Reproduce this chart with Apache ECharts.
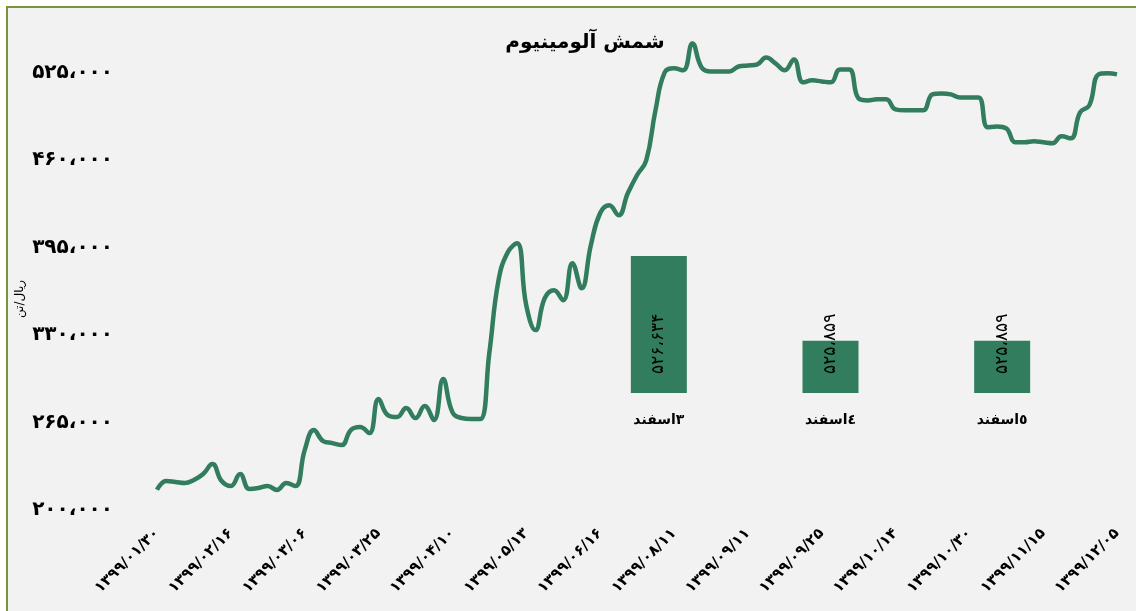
<!DOCTYPE html>
<html>
<head>
<meta charset="utf-8">
<script src="https://cdn.jsdelivr.net/npm/echarts@6/dist/echarts.min.js"></script>
<style>
  html, body { margin: 0; padding: 0; background: #ffffff; }
  #frame {
    position: absolute; left: 6px; top: 6px; width: 1130px; height: 605px;
    background: #f2f2f2; border-top: 2px solid #77933c; border-left: 2px solid #77933c;
  }
  #chart { position: absolute; left: 0; top: 0; width: 1136px; height: 611px; }
</style>
</head>
<body>
<div id="frame"></div>
<div id="chart"></div>
<script>
// dates shown on the x axis, one every labelStep points
const tickLabels = [
    '۱۳۹۹/۰۱/۳۰', '۱۳۹۹/۰۲/۱۶', '۱۳۹۹/۰۳/۰۶', '۱۳۹۹/۰۳/۲۵', '۱۳۹۹/۰۴/۱۰',
    '۱۳۹۹/۰۵/۱۳', '۱۳۹۹/۰۶/۱۶', '۱۳۹۹/۰۸/۱۱', '۱۳۹۹/۰۹/۱۱', '۱۳۹۹/۰۹/۲۵',
    '۱۳۹۹/۱۰/۱۴', '۱۳۹۹/۱۰/۳۰', '۱۳۹۹/۱۱/۱۵', '۱۳۹۹/۱۲/۰۵'
];
const labelStep = 8;

// price, rial per ton
const prices = [
    215000, 221500, 220800, 220000, 222300, 226700, 234100, 221500, 217800, 226700,
    215600, 216300, 217800, 214800, 220000, 217800, 244500, 259400, 251200, 249700,
    248200, 259400, 261600, 257100, 282400, 270500, 269000, 275700, 268300, 277200,
    266800, 297200, 272700, 268300, 267500, 267500, 316500, 370700, 391400, 398100,
    352100, 333600, 357300, 363200, 355800, 383300, 364700, 396600, 420400, 426300,
    418900, 435200, 448600, 459700, 496800, 525000, 528000, 526500, 546500, 528700,
    525700, 525700, 525700, 529400, 530200, 530900, 536100, 531700, 526500, 534600,
    517600, 519100, 518300, 517600, 527200, 527200, 505700, 504200, 505000, 505000,
    497500, 496800, 496800, 496800, 508700, 509400, 508700, 506400, 506400, 506400,
    484200, 484900, 483400, 473100, 473100, 473800, 473100, 472300, 477500, 476000,
    495300, 500500, 523500, 524300, 523500
];

// last three days (inset bars)
const esfandDays = ['٣اسفند', '٤اسفند', '٥اسفند'];
const esfandPrices = [526634, 525859, 525859];

const faDigits = '۰۱۲۳۴۵۶۷۸۹';
function toFa(n) {
    return String(n)
        .replace(/\B(?=(\d{3})+(?!\d))/g, '،')
        .replace(/\d/g, d => faDigits[d]);
}

const green = '#317d5e';
const font = 'DejaVu Sans';
const chart = echarts.init(document.getElementById('chart'));

const option = {
    backgroundColor: 'transparent',
    animation: false,
    title: {
        text: 'شمش آلومینیوم',
        left: 580,
        top: 28,
        textAlign: 'center',
        textStyle: { fontFamily: font, fontSize: 20, fontWeight: 'bold', color: '#000' }
    },
    grid: [
        { left: 157, right: 19, top: 32, bottom: 101 },
        { left: 573, right: 48, top: 238, bottom: 218 }
    ],
    xAxis: [
        {
            type: 'category',
            gridIndex: 0,
            boundaryGap: false,
            data: prices.map((_, i) => String(i)),
            axisLine: { show: false },
            axisTick: { show: false },
            axisLabel: {
                interval: labelStep - 1,
                rotate: 45,
                margin: 21,
                fontFamily: font,
                fontSize: 15,
                fontWeight: 'bold',
                color: '#000',
                formatter: (v, i) => tickLabels[i / labelStep] || ''
            }
        },
        {
            type: 'category',
            gridIndex: 1,
            data: esfandDays,
            axisLine: { show: false },
            axisTick: { show: false },
            axisLabel: {
                margin: 20,
                fontFamily: font,
                fontSize: 14,
                fontWeight: 'bold',
                color: '#000'
            }
        }
    ],
    yAxis: [
        {
            type: 'value',
            gridIndex: 0,
            min: 200000,
            max: 555000,
            interval: 65000,
            name: 'ریال/تن',
            nameLocation: 'middle',
            nameGap: 131,
            nameMoveOverlap: false,
            nameTextStyle: { fontFamily: font, fontSize: 12, color: '#000', padding: [0, 56, 0, 0] },
            axisLine: { show: false },
            axisTick: { show: false },
            splitLine: { show: false },
            axisLabel: {
                showMaxLabel: false,
                margin: 44,
                fontFamily: font,
                fontSize: 20,
                fontWeight: 'bold',
                color: '#000',
                formatter: v => toFa(v)
            }
        },
        {
            type: 'value',
            gridIndex: 1,
            min: 525380,
            max: 526800,
            show: false,
            splitLine: { show: false }
        }
    ],
    series: [
        {
            type: 'line',
            xAxisIndex: 0,
            yAxisIndex: 0,
            data: prices,
            smooth: 0.45,
            symbol: 'none',
            lineStyle: { color: green, width: 4.5 }
        },
        {
            type: 'bar',
            xAxisIndex: 1,
            yAxisIndex: 1,
            data: esfandPrices,
            barWidth: 56,
            itemStyle: { color: green },
            label: {
                show: true,
                position: 'insideBottom',
                rotate: 90,
                align: 'left',
                verticalAlign: 'middle',
                distance: 19,
                fontFamily: font,
                fontSize: 17,
                color: '#000',
                formatter: p => toFa(p.value)
            }
        }
    ]
};
chart.setOption(option);
</script>
</body>
</html>
